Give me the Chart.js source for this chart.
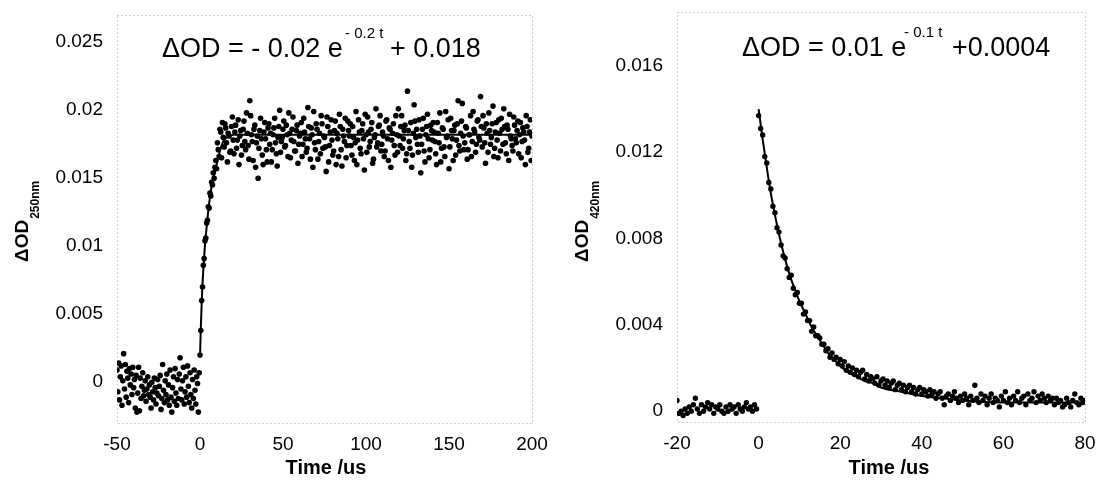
<!DOCTYPE html>
<html>
<head>
<meta charset="utf-8">
<script src="https://cdn.jsdelivr.net/npm/chart.js@4.4.1/dist/chart.umd.min.js"></script>
<style>
  html, body { margin: 0; padding: 0; background: #fff; }
  #wrap { position: relative; width: 1098px; height: 489px; }
  canvas { position: absolute; top: 0; }
  #left { left: 0; }
  #right { left: 549px; }
</style>
</head>
<body>
<div id="wrap">
  <canvas id="left" width="549" height="489"></canvas>
  <canvas id="right" width="549" height="489"></canvas>
</div>
<script>
// ---- left panel: 250 nm, rise ----
const leftXTicks = [-50, 0, 50, 100, 150, 200];
const leftYTicks = [0, 0.005, 0.01, 0.015, 0.02, 0.025];

// [time (us), dOD] before the flash
const leftPre = [
  [-50,0.0009],[-49.5,-0.0007],[-49,0.0014],[-48.5,-0.0013],[-48,0.0004],[-47.5,0.0012],[-47,-0.0017],[-46.5,0.0001],
  [-46,0.0021],[-45.5,-0.0005],[-45,0.0013],[-44.5,-0.0011],[-44,0.0008],[-43.5,0.0003],[-43,-0.0015],[-42.5,0.0010],
  [-42,-0.0002],[-41.5,0.0006],[-41,-0.0009],[-40.5,0.0011],[-40,-0.0004],[-39.5,0.0002],[-39,-0.0019],[-38.5,0.0005],
  [-38,-0.0022],[-37.5,-0.0008],[-37,0.0011],[-36.5,-0.0021],[-36,0.0003],[-35.5,-0.0012],[-35,-0.0003],[-34.5,0.0007],
  [-34,-0.0010],[-33.5,-0.0006],[-33,0.0001],[-32.5,-0.0014],[-32,-0.0005],[-31.5,0.0004],[-31,-0.0009],[-30.5,-0.0002],
  [-30,-0.0011],[-29.5,-0.0019],[-29,0.0000],[-28.5,-0.0007],[-28,-0.0013],[-27.5,0.0003],[-27,-0.0004],[-26.5,-0.0016],
  [-26,-0.0008],[-25.5,0.0002],[-25,-0.0010],[-24.5,-0.0003],[-24,0.0005],[-23.5,-0.0020],[-23,-0.0012],[-22.5,0.0013],
  [-22,-0.0006],[-21.5,-0.0015],[-21,0.0001],[-20.5,-0.0009],[-20,0.0006],[-19.5,-0.0013],[-19,-0.0002],[-18.5,-0.0017],
  [-18,0.0009],[-17.5,-0.0011],[-17,-0.0022],[-16.5,-0.0004],[-16,0.0004],[-15.5,-0.0014],[-15,0.0010],[-14.5,-0.0008],
  [-14,-0.0017],[-13.5,0.0002],[-13,-0.0012],[-12.5,0.0006],[-12,0.0018],[-11.5,-0.0005],[-11,-0.0013],[-10.5,0.0001],
  [-10,0.0011],[-9.5,-0.0016],[-9,-0.0007],[-8.5,0.0004],[-8,-0.0011],[-7.5,0.0012],[-7,-0.0003],[-6.5,-0.0015],
  [-6,0.0007],[-5.5,-0.0009],[-5,-0.0019],[-4.5,0.0002],[-4,-0.0012],[-3.5,0.0009],[-3,-0.0006],[-2.5,-0.0016],
  [-2,0.0004],[-1.5,-0.0001],[-1,-0.0022],[-0.5,0.0007]
];

// rising edge
const leftRise = [
  [0,0.0020],[0.5,0.0038],[1,0.0060],[1.5,0.0070],[2,0.0086],[2.5,0.0091],[3,0.0104],[3.5,0.0106],[4,0.0117],
  [4.5,0.0119],[5,0.0129],[5.5,0.0128],[6,0.0139],[6.5,0.0137],[7,0.0147],[7.5,0.0145],[8,0.0154],[8.5,0.0150],
  [9,0.0158],[9.5,0.0163],[10,0.0157]
];

// plateau, whole microseconds 11 .. 200
const leftPlateauT = [
  11,12,13,14,15,16,17,18,19,20,21,22,23,24,25,26,27,28,29,30,31,32,33,34,35,36,37,38,39,40,
  41,42,43,44,45,46,47,48,49,50,51,52,53,54,55,56,57,58,59,60,61,62,63,64,65,66,67,68,69,70,
  71,72,73,74,75,76,77,78,79,80,81,82,83,84,85,86,87,88,89,90,91,92,93,94,95,96,97,98,99,100,
  101,102,103,104,105,106,107,108,109,110,111,112,113,114,115,116,117,118,119,120,
  121,122,123,124,125,126,127,128,129,130,131,132,133,134,135,136,137,138,139,140,
  141,142,143,144,145,146,147,148,149,150,151,152,153,154,155,156,157,158,159,160,
  161,162,163,164,165,166,167,168,169,170,171,172,173,174,175,176,177,178,179,180,
  181,182,183,184,185,186,187,188,189,190,191,192,193,194,195,196,197,198,199,200
];
const leftPlateauY = [
  0.0171,0.0186,0.0165,0.0180,0.0190,0.0176,0.0183,0.0169,0.0188,0.0178,
  0.0184,0.0172,0.0193,0.0181,0.0167,0.0186,0.0177,0.0198,0.0174,0.0207,
  0.0182,0.0163,0.0189,0.0176,0.0150,0.0185,0.0179,0.0160,0.0191,0.0171,
  0.0187,0.0175,0.0162,0.0182,0.0194,0.0168,0.0180,0.0200,0.0177,0.0186,
  0.0173,0.0189,0.0166,0.0183,0.0178,0.0195,0.0170,0.0185,0.0161,0.0181,
  0.0191,0.0175,0.0184,0.0169,0.0202,0.0179,0.0187,0.0158,0.0176,0.0190,
  0.0164,0.0183,0.0196,0.0172,0.0180,0.0155,0.0188,0.0174,0.0193,0.0167,
  0.0185,0.0160,0.0179,0.0197,0.0171,0.0186,0.0177,0.0165,0.0192,0.0181,
  0.0174,0.0188,0.0163,0.0199,0.0178,0.0184,0.0168,0.0190,0.0156,0.0182,
  0.0195,0.0173,0.0186,0.0161,0.0180,0.0201,0.0176,0.0189,0.0170,0.0184,
  0.0166,0.0192,0.0179,0.0187,0.0158,0.0183,0.0174,0.0196,0.0169,0.0181,
  0.0188,0.0172,0.0185,0.0163,0.0214,0.0177,0.0191,0.0167,0.0204,0.0180,
  0.0175,0.0193,0.0154,0.0186,0.0170,0.0182,0.0197,0.0165,0.0189,0.0178,
  0.0184,0.0168,0.0191,0.0176,0.0162,0.0187,0.0173,0.0199,0.0181,0.0157,
  0.0194,0.0179,0.0185,0.0167,0.0190,0.0174,0.0183,0.0205,0.0171,0.0188,
  0.0164,0.0182,0.0196,0.0177,0.0186,0.0169,0.0192,0.0180,0.0210,0.0173,
  0.0187,0.0161,0.0183,0.0198,0.0175,0.0190,0.0166,0.0184,0.0178,0.0193,
  0.0170,0.0186,0.0201,0.0176,0.0189,0.0163,0.0181,0.0174,0.0195,0.0179,
  0.0185,0.0168,0.0191,0.0177,0.0184,0.0160,0.0188,0.0172,0.0193,0.0181
];

// plateau, half microseconds 10.5 .. 199.5
const leftPlateau2T = [
  10.5,11.5,12.5,13.5,14.5,15.5,16.5,17.5,18.5,19.5,20.5,21.5,22.5,23.5,24.5,25.5,26.5,27.5,28.5,29.5,
  30.5,31.5,32.5,33.5,34.5,35.5,36.5,37.5,38.5,39.5,40.5,41.5,42.5,43.5,44.5,45.5,46.5,47.5,48.5,49.5,
  50.5,51.5,52.5,53.5,54.5,55.5,56.5,57.5,58.5,59.5,60.5,61.5,62.5,63.5,64.5,65.5,66.5,67.5,68.5,69.5,
  70.5,71.5,72.5,73.5,74.5,75.5,76.5,77.5,78.5,79.5,80.5,81.5,82.5,83.5,84.5,85.5,86.5,87.5,88.5,89.5,
  90.5,91.5,92.5,93.5,94.5,95.5,96.5,97.5,98.5,99.5,100.5,101.5,102.5,103.5,104.5,105.5,106.5,107.5,108.5,109.5,
  110.5,111.5,112.5,113.5,114.5,115.5,116.5,117.5,118.5,119.5,120.5,121.5,122.5,123.5,124.5,125.5,126.5,127.5,128.5,129.5,
  130.5,131.5,132.5,133.5,134.5,135.5,136.5,137.5,138.5,139.5,140.5,141.5,142.5,143.5,144.5,145.5,146.5,147.5,148.5,149.5,
  150.5,151.5,152.5,153.5,154.5,155.5,156.5,157.5,158.5,159.5,160.5,161.5,162.5,163.5,164.5,165.5,166.5,167.5,168.5,169.5,
  170.5,171.5,172.5,173.5,174.5,175.5,176.5,177.5,178.5,179.5,180.5,181.5,182.5,183.5,184.5,185.5,186.5,187.5,188.5,189.5,
  190.5,191.5,192.5,193.5,194.5,195.5,196.5,197.5,198.5,199.5
];
const leftPlateau2Y = [
  0.0176,0.0166,0.0184,0.0191,0.0173,0.0187,0.0162,0.0181,0.0170,0.0195,
  0.0168,0.0189,0.0178,0.0160,0.0185,0.0174,0.0192,0.0171,0.0183,0.0164,
  0.0196,0.0177,0.0186,0.0158,0.0181,0.0172,0.0194,0.0167,0.0184,0.0179,
  0.0162,0.0190,0.0183,0.0171,0.0187,0.0176,0.0159,0.0188,0.0169,0.0180,
  0.0192,0.0174,0.0182,0.0198,0.0165,0.0186,0.0177,0.0170,0.0189,0.0175,
  0.0183,0.0166,0.0194,0.0179,0.0172,0.0188,0.0164,0.0182,0.0199,0.0171,
  0.0186,0.0177,0.0168,0.0190,0.0181,0.0173,0.0195,0.0162,0.0184,0.0178,
  0.0170,0.0192,0.0183,0.0166,0.0188,0.0159,0.0181,0.0194,0.0174,0.0185,
  0.0190,0.0167,0.0180,0.0176,0.0160,0.0193,0.0172,0.0185,0.0179,0.0197,
  0.0169,0.0184,0.0177,0.0191,0.0164,0.0182,0.0173,0.0188,0.0196,0.0175,
  0.0181,0.0170,0.0193,0.0163,0.0186,0.0178,0.0190,0.0167,0.0182,0.0201,
  0.0174,0.0196,0.0179,0.0189,0.0168,0.0185,0.0172,0.0158,0.0183,0.0192,
  0.0186,0.0169,0.0181,0.0175,0.0194,0.0162,0.0188,0.0179,0.0171,0.0185,
  0.0191,0.0177,0.0160,0.0183,0.0198,0.0172,0.0186,0.0166,0.0180,0.0193,
  0.0173,0.0185,0.0163,0.0189,0.0178,0.0207,0.0170,0.0192,0.0181,0.0176,
  0.0187,0.0171,0.0182,0.0166,0.0199,0.0184,0.0175,0.0193,0.0178,0.0188,
  0.0196,0.0176,0.0190,0.0169,0.0185,0.0180,0.0203,0.0172,0.0191,0.0165,
  0.0183,0.0194,0.0175,0.0188,0.0168,0.0186,0.0197,0.0179,0.0170,0.0189,
  0.0176,0.0192,0.0182,0.0165,0.0187,0.0178,0.0196,0.0169,0.0184,0.0163
];

// fitted curve as drawn
const leftFitT = [0, 0.5, 1, 1.5, 2, 3, 4, 5, 6, 7, 8, 9, 10, 12, 14, 16, 18, 20, 200];
const leftFitY = [0.0018, 0.0040, 0.0058, 0.0072, 0.0083, 0.0101, 0.0114, 0.0126, 0.0136, 0.0144,
                  0.0150, 0.0155, 0.0160, 0.0170, 0.0177, 0.0180, 0.0181, 0.0182, 0.0182];

// ---- right panel: 420 nm, decay ----
const rightXTicks = [-20, 0, 20, 40, 60, 80];
const rightYTicks = [0, 0.004, 0.008, 0.012, 0.016];

const rightPre = [
  [-20,0.0005],[-19.5,-0.0001],[-19,0.0000],[-18.5,-0.0002],[-18,0.0001],[-17.5,-0.0001],[-17,0.0002],[-16.5,0.0000],
  [-16,0.0003],[-15.5,0.0006],[-15,0.0001],[-14.5,-0.0001],[-14,0.0003],[-13.5,0.0000],[-13,0.0002],[-12.5,0.0004],
  [-12,0.0001],[-11.5,0.0003],[-11,-0.0001],[-10.5,0.0002],[-10,0.0001],[-9.5,0.0003],[-9,0.0000],[-8.5,-0.0001],
  [-8,0.0002],[-7.5,0.0000],[-7,0.0003],[-6.5,0.0001],[-6,0.0002],[-5.5,-0.0001],[-5,0.0003],[-4.5,0.0001],
  [-4,0.0000],[-3.5,0.0002],[-3,0.0004],[-2.5,0.0001],[-2,0.0002],[-1.5,0.0000],[-1,0.0003],[-0.5,0.0001]
];

const rightDecay = [
  [0,0.0137],[0.5,0.0131],[1,0.0128],[1.5,0.0118],[2,0.0115],[2.5,0.0106],[3,0.0103],[3.5,0.0095],[4,0.0092],[4.5,0.0085],
  [5,0.0083],[5.5,0.0077],[6,0.0072],[6.5,0.0071],[7,0.0066],[7.5,0.0062],[8,0.0063],[8.5,0.0057],[9,0.0054],[9.5,0.0055],
  [10,0.0050],[10.5,0.0050],[11,0.0045],[11.5,0.0046],[12,0.0042],[12.5,0.0042],[13,0.0037],[13.5,0.0039],[14,0.0035],[14.5,0.0035],
  [15,0.0034],[15.5,0.0031],[16,0.0031],[16.5,0.0028],[17,0.0029],[17.5,0.0025],[18,0.0027],[18.5,0.0024],[19,0.0025],[19.5,0.0022],
  [20,0.0024],[20.5,0.0021],[21,0.0023],[21.5,0.0019],[22,0.0021],[22.5,0.0018],[23,0.0020],[23.5,0.0017],[24,0.0019],[24.5,0.0016],
  [25,0.0018],[25.5,0.0019],[26,0.0015],[26.5,0.0017],[27,0.0014],[27.5,0.0016],[28,0.0015],[28.5,0.0013],[29,0.0016],[29.5,0.0012],
  [30,0.0014],[30.5,0.0015],[31,0.0012],[31.5,0.0014],[32,0.0011],[32.5,0.0013],[33,0.0014],[33.5,0.0010],[34,0.0012],[34.5,0.0013],
  [35,0.0010],[35.5,0.0012],[36,0.0009],[36.5,0.0011],[37,0.0012],[37.5,0.0009],[38,0.0011],[38.5,0.0008],[39,0.0010],[39.5,0.0011],
  [40,0.0008],[40.5,0.0010],[41,0.0009],[41.5,0.0007],[42,0.0010],[42.5,0.0008],[43,0.0009],[43.5,0.0006],[44,0.0008],[44.5,0.0009],
  [45,0.0006],[45.5,0.0003],[46,0.0007],[46.5,0.0008],[47,0.0005],[47.5,0.0007],[48,0.0009],[48.5,0.0006],[49,0.0004],[49.5,0.0007],
  [50,0.0005],[50.5,0.0008],[51,0.0006],[51.5,0.0003],[52,0.0007],[52.5,0.0005],[53,0.0012],[53.5,0.0006],[54,0.0004],[54.5,0.0008],
  [55,0.0005],[55.5,0.0007],[56,0.0003],[56.5,0.0006],[57,0.0008],[57.5,0.0004],[58,0.0006],[58.5,0.0005],[59,0.0002],[59.5,0.0007],
  [60,0.0005],[60.5,0.0009],[61,0.0004],[61.5,0.0006],[62,0.0003],[62.5,0.0007],[63,0.0005],[63.5,0.0009],[64,0.0004],[64.5,0.0006],
  [65,0.0007],[65.5,0.0003],[66,0.0008],[66.5,0.0005],[67,0.0006],[67.5,0.0009],[68,0.0004],[68.5,0.0007],[69,0.0005],[69.5,0.0008],
  [70,0.0006],[70.5,0.0004],[71,0.0007],[71.5,0.0005],[72,0.0006],[72.5,0.0003],[73,0.0006],[73.5,0.0004],[74,0.0005],[74.5,0.0002],
  [75,0.0003],[75.5,0.0006],[76,0.0004],[76.5,0.0002],[77,0.0005],[77.5,0.0008],[78,0.0004],[78.5,0.0003],[79,0.0006],[79.5,0.0004],
  [80,0.0005]
];

const rightFitT = [0, 1, 2, 3, 4, 5, 6, 7, 8, 9, 10, 11, 12, 13, 14, 15, 16, 17, 18, 19, 20, 22, 24, 26, 28, 30, 35, 40, 45, 50, 60, 80];
const rightFitY = [0.0140, 0.0126, 0.0113, 0.0101, 0.0091, 0.0082, 0.0074, 0.0067, 0.0061, 0.0056, 0.0051,
                   0.0047, 0.0043, 0.0039, 0.0036, 0.0033, 0.0030, 0.0027, 0.0025, 0.0023, 0.0021,
                   0.0018, 0.0016, 0.0014, 0.0013, 0.0011, 0.0009, 0.0007, 0.0006, 0.0005, 0.0004, 0.0004];

const FONT = '"Liberation Sans", Arial, Helvetica, sans-serif';

function pairs(list) {
  return list.map(p => ({ x: p[0], y: p[1] }));
}

function zip(xs, ys) {
  return xs.map((x, i) => ({ x, y: ys[i] }));
}

function fmtTick(v) {
  return String(Number(v.toFixed(4)));
}

// equation title with superscript, and rotated y title with subscript
function labelPlugin(opts) {
  return {
    id: 'labels',
    beforeDatasetsDraw(chart) {
      const { ctx, chartArea: a } = chart;
      ctx.save();
      ctx.strokeStyle = '#9a9a9a';
      ctx.lineWidth = 1;
      ctx.setLineDash([1, 3]);
      ctx.strokeRect(a.left + 0.5, a.top + 0.5, a.right - a.left, a.bottom - a.top);
      ctx.restore();
    },
    afterDraw(chart) {
      const ctx = chart.ctx;
      ctx.save();
      ctx.fillStyle = '#000';
      ctx.textBaseline = 'alphabetic';
      ctx.textAlign = 'left';

      // title
      ctx.font = '27px ' + FONT;
      ctx.fillText(opts.title[0], opts.titleX[0], opts.titleY);
      ctx.font = '15px ' + FONT;
      ctx.fillText(opts.title[1], opts.titleX[1], opts.titleY - 19);
      ctx.font = '27px ' + FONT;
      ctx.fillText(opts.title[2], opts.titleX[2], opts.titleY);

      // x axis title
      ctx.font = 'bold 20px ' + FONT;
      ctx.textAlign = 'center';
      ctx.fillText('Time /us', opts.xTitleX, 474);

      // y axis title, rotated
      ctx.translate(opts.yTitleX, 262);
      ctx.rotate(-Math.PI / 2);
      ctx.textAlign = 'left';
      ctx.font = 'bold 19px ' + FONT;
      ctx.fillText('\u0394OD', 0, 0);
      const w = ctx.measureText('\u0394OD').width;
      ctx.font = 'bold 12px ' + FONT;
      ctx.fillText(opts.sub, w + 1, 11);
      ctx.restore();
    }
  };
}

function makePanel(canvasId, cfg) {
  const ctx = document.getElementById(canvasId).getContext('2d');
  return new Chart(ctx, {
    type: 'scatter',
    data: {
      datasets: [
        {
          data: cfg.fit,
          showLine: true,
          borderColor: '#000',
          borderWidth: 2,
          pointRadius: 0,
          cubicInterpolationMode: 'monotone',
          order: 0,
        },
        {
          data: cfg.points,
          backgroundColor: '#000',
          borderWidth: 0,
          pointRadius: cfg.radius,
          order: 1,
        },
      ],
    },
    options: {
      responsive: false,
      animation: false,
      events: [],
      layout: { padding: { top: cfg.top, right: cfg.right, left: 0, bottom: 0 } },
      plugins: { legend: { display: false }, tooltip: { enabled: false } },
      scales: {
        x: {
          type: 'linear',
          min: cfg.xTicks[0],
          max: cfg.xTicks[cfg.xTicks.length - 1],
          afterFit: (s) => { s.height = cfg.xAxisH; s.paddingLeft = 0; s.paddingRight = 0; },
          afterBuildTicks: (s) => { s.ticks = cfg.xTicks.map(v => ({ value: v })); },
          grid: { display: false, drawTicks: false },
          border: { display: false },
          ticks: { color: '#000', padding: 10, font: { family: FONT, size: 19 }, maxRotation: 0, callback: fmtTick },
        },
        y: {
          type: 'linear',
          min: cfg.yMin,
          max: cfg.yMax,
          afterFit: (s) => { s.width = cfg.yAxisW; s.paddingTop = 0; s.paddingBottom = 0; },
          afterBuildTicks: (s) => { s.ticks = cfg.yTicks.map(v => ({ value: v })); },
          grid: { display: false, drawTicks: false },
          border: { display: false },
          ticks: { color: '#000', padding: 14, font: { family: FONT, size: 19 }, callback: fmtTick },
        },
      },
    },
    plugins: [labelPlugin(cfg.labels)],
  });
}

makePanel('left', {
  points: pairs(leftPre).concat(pairs(leftRise), zip(leftPlateauT, leftPlateauY), zip(leftPlateau2T, leftPlateau2Y)),
  fit: zip(leftFitT, leftFitY),
  radius: 2.8,
  xTicks: leftXTicks,
  yTicks: leftYTicks,
  yMin: -0.003,
  yMax: 0.027,
  top: 15,
  right: 17,
  xAxisH: 66,
  yAxisW: 117,
  labels: {
    title: ['\u0394OD = - 0.02 e', '- 0.2 t', '+ 0.018'],
    titleX: [162, 345, 390],
    titleY: 57,
    xTitleX: 326,
    yTitleX: 28,
    sub: '250nm',
  },
});

makePanel('right', {
  points: pairs(rightPre).concat(pairs(rightDecay)),
  fit: zip(rightFitT, rightFitY),
  radius: 2.7,
  xTicks: rightXTicks,
  yTicks: rightYTicks,
  yMin: -0.0005,
  yMax: 0.0185,
  top: 12,
  right: 13,
  xAxisH: 67,
  yAxisW: 128,
  labels: {
    title: ['\u0394OD = 0.01 e', '- 0.1 t', '+0.0004'],
    titleX: [193, 355, 403],
    titleY: 56,
    xTitleX: 340,
    yTitleX: 39,
    sub: '420nm',
  },
});
</script>
</body>
</html>
